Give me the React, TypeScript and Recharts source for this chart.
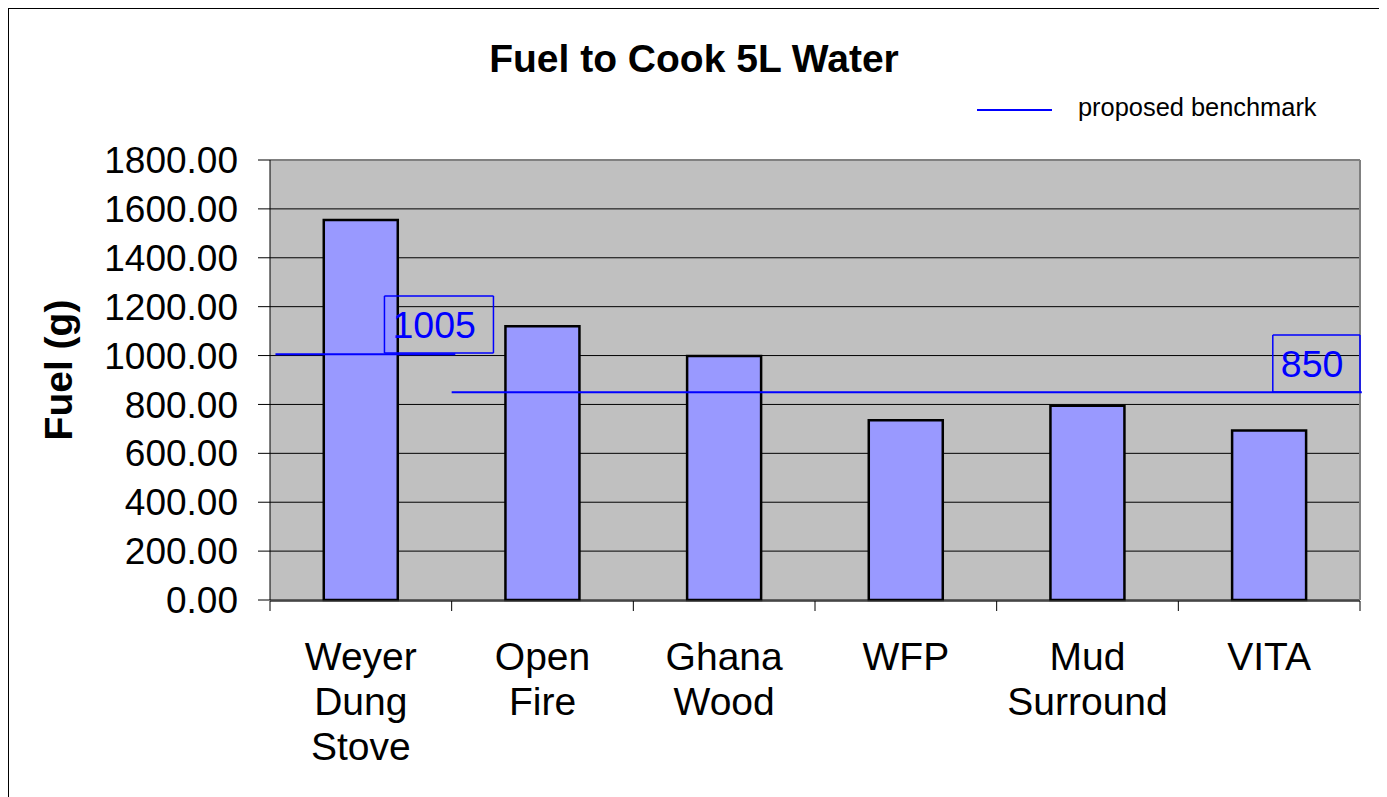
import React from 'react';
import {
  ComposedChart,
  Bar,
  XAxis,
  YAxis,
  CartesianGrid,
  ReferenceLine,
  Label,
} from 'recharts';

// ---- data ----
const categories = ['Weyer Dung Stove', 'Open Fire', 'Ghana Wood', 'WFP', 'Mud Surround', 'VITA'];
const fuelGrams = [1555, 1120, 998, 735, 795, 693];
const yTicks = [0, 200, 400, 600, 800, 1000, 1200, 1400, 1600, 1800];
const categoryBoundaries = [0, 1, 2, 3, 4, 5, 6];
const benchmarkValues = [1005, 850];
const benchmarkLabels = ['1005', '850'];
// benchmark segments, in category units (0..6)
const benchmarkFrom = [0.03, 1.0];
const benchmarkTo = [1.02, 6.01];
// label boxes, in category units and grams
const boxX1 = [0.63, 5.52];
const boxX2 = [1.23, 6.0];
const boxY1 = [1010, 851];
const boxY2 = [1244, 1084];

const chartData = categories.map((name, i) => ({ name, pos: i + 0.5, fuel: fuelGrams[i] }));

const FONT = '"Liberation Sans", Arial, Helvetica, sans-serif';
const W = 1371;
const H = 793;
const BLUE = '#0000FF';

const CategoryTick = (props: any) => {
  const { x, y, payload } = props;
  const words: string[] = String(payload.value).split(' ');
  return (
    <text x={x} y={y} textAnchor="middle" fontFamily={FONT} fontSize={39} fill="#000">
      {words.map((w, i) => (
        <tspan key={i} x={x} dy={i === 0 ? 70 : 45}>
          {w}
        </tspan>
      ))}
    </text>
  );
};

const EmptyTick = () => <g />;

const YLabel = (props: any) => {
  const vb = props.viewBox || { x: 0, y: 0, width: 0, height: 0 };
  const cx = vb.x + 29;
  const cy = vb.y + vb.height / 2 - 10;
  return (
    <text
      x={cx}
      y={cy}
      transform={`rotate(-90, ${cx}, ${cy})`}
      textAnchor="middle"
      dominantBaseline="central"
      fontFamily={FONT}
      fontWeight="bold"
      fontSize={39}
      fill="#000"
    >
      Fuel (g)
    </text>
  );
};

export default function App() {
  return (
    <div
      style={{
        position: 'relative',
        width: W + 2,
        height: H + 2,
        border: '1px solid #000',
        boxSizing: 'border-box',
        background: '#fff',
      }}
    >
      <ComposedChart
        width={W}
        height={H}
        data={chartData}
        margin={{ top: 151, right: 20, bottom: 31, left: 20 }}
        barCategoryGap="29.6%"
      >
        <CartesianGrid
          xAxisId="num"
          vertical={false}
          horizontal={true}
          stroke="#000"
          strokeWidth={1}
          fill="#C0C0C0"
          fillOpacity={1}
        />
        <XAxis
          xAxisId="cat"
          dataKey="name"
          type="category"
          axisLine={false}
          tickLine={false}
          tickSize={0}
          tickMargin={0}
          tick={<CategoryTick />}
          interval={0}
          height={1}
        />
        <XAxis
          xAxisId="num"
          dataKey="pos"
          type="number"
          domain={[0, 6]}
          ticks={categoryBoundaries}
          interval={0}
          tick={<EmptyTick />}
          tickSize={10}
          tickLine={{ stroke: '#000', strokeWidth: 1 }}
          axisLine={{ stroke: '#333', strokeWidth: 1.5 }}
          height={170}
          allowDataOverflow
        />
        <YAxis
          domain={[0, 1800]}
          ticks={yTicks}
          interval={0}
          tickFormatter={(v: number) => v.toFixed(2)}
          width={241}
          tickSize={12}
          tickMargin={20}
          tickLine={{ stroke: '#000' }}
          axisLine={{ stroke: '#000' }}
          tick={{ fill: '#000', fontSize: 37, fontFamily: FONT }}
        >
          <Label content={<YLabel />} position="insideLeft" />
        </YAxis>
        <Bar
          xAxisId="cat"
          dataKey="fuel"
          fill="#9999FF"
          stroke="#000"
          strokeWidth={2.5}
          isAnimationActive={false}
        />
        <ReferenceLine xAxisId="num" y={1800} stroke="#808080" strokeWidth={2} />
        <ReferenceLine xAxisId="num" x={6} stroke="#808080" strokeWidth={2} ifOverflow="visible" />
        {benchmarkValues.map((v, i) => (
          <ReferenceLine
            key={'bl' + i}
            xAxisId="num"
            segment={[
              { x: benchmarkFrom[i], y: v },
              { x: benchmarkTo[i], y: v },
            ]}
            stroke={BLUE}
            strokeWidth={2}
            ifOverflow="visible"
          />
        ))}
        {benchmarkLabels.map((t, i) => (
          <ReferenceLine
            key={'bxl' + i}
            xAxisId="num"
            segment={[
              { x: boxX1[i], y: boxY1[i] },
              { x: boxX1[i], y: boxY2[i] },
            ]}
            stroke={BLUE}
            strokeWidth={1.5}
            ifOverflow="visible"
            label={{
              value: t,
              position: 'right',
              offset: 8,
              fill: BLUE,
              fontSize: 37.5,
              fontFamily: FONT,
            }}
          />
        ))}
        {benchmarkLabels.map((t, i) => (
          <ReferenceLine
            key={'bxr' + i}
            xAxisId="num"
            segment={[
              { x: boxX2[i], y: boxY1[i] },
              { x: boxX2[i], y: boxY2[i] },
            ]}
            stroke={BLUE}
            strokeWidth={1.5}
            ifOverflow="visible"
          />
        ))}
        {benchmarkLabels.map((t, i) => (
          <ReferenceLine
            key={'bxt' + i}
            xAxisId="num"
            segment={[
              { x: boxX1[i], y: boxY2[i] },
              { x: boxX2[i], y: boxY2[i] },
            ]}
            stroke={BLUE}
            strokeWidth={1.5}
            ifOverflow="visible"
          />
        ))}
        {benchmarkLabels.map((t, i) => (
          <ReferenceLine
            key={'bxb' + i}
            xAxisId="num"
            segment={[
              { x: boxX1[i], y: boxY1[i] },
              { x: boxX2[i], y: boxY1[i] },
            ]}
            stroke={BLUE}
            strokeWidth={1.5}
            ifOverflow="visible"
          />
        ))}
      </ComposedChart>
      <svg
        width={W}
        height={150}
        style={{ position: 'absolute', left: 0, top: 0, pointerEvents: 'none' }}
      >
        <text
          x={685}
          y={63}
          textAnchor="middle"
          fontFamily={FONT}
          fontWeight="bold"
          fontSize={39}
          fill="#000"
        >
          Fuel to Cook 5L Water
        </text>
        <line x1={968} x2={1043} y1={101} y2={101} stroke={BLUE} strokeWidth={2} />
        <text x={1069} y={107} fontFamily={FONT} fontSize={25.4} fill="#000">
          proposed benchmark
        </text>
      </svg>
    </div>
  );
}
